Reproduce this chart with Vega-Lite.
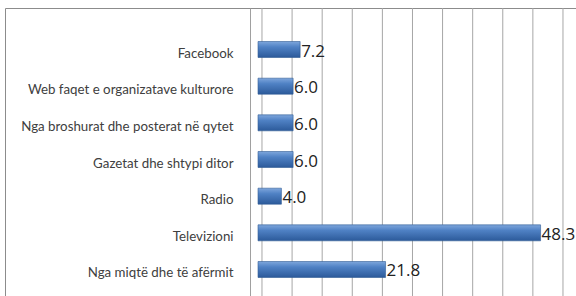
{
  "$schema": "https://vega.github.io/schema/vega-lite/v6.json",
  "width": 585,
  "height": 303,
  "autosize": {"type": "none"},
  "padding": {"left": 5, "top": 8, "right": 0, "bottom": 0},
  "background": "white",
  "config": {
    "view": {"stroke": "#8c8c8c", "strokeWidth": 1},
    "font": "Lato"
  },
  "datasets": {
    "vals": [
      {"burimi": "Facebook", "vlera": 7.2},
      {"burimi": "Web faqet e organizatave kulturore", "vlera": 6.0},
      {"burimi": "Nga broshurat dhe posterat në qytet", "vlera": 6.0},
      {"burimi": "Gazetat dhe shtypi ditor", "vlera": 6.0},
      {"burimi": "Radio", "vlera": 4.0},
      {"burimi": "Televizioni", "vlera": 48.3},
      {"burimi": "Nga miqtë dhe të afërmit", "vlera": 21.8}
    ],
    "grid": [
      {"g": 0}, {"g": 5}, {"g": 10}, {"g": 15}, {"g": 20}, {"g": 25},
      {"g": 30}, {"g": 35}, {"g": 40}, {"g": 45}, {"g": 50}
    ]
  },
  "layer": [
    {
      "data": {"name": "grid"},
      "mark": {"type": "rule", "color": "#a6a6a6", "strokeWidth": 1},
      "encoding": {
        "x": {
          "field": "g",
          "type": "quantitative",
          "scale": {"domain": [-42.69, 54.49], "nice": false, "zero": false},
          "axis": null
        }
      }
    },
    {
      "data": {"name": "vals"},
      "encoding": {
        "y": {
          "field": "burimi",
          "type": "nominal",
          "sort": null,
          "scale": {"paddingInner": 0.564, "paddingOuter": 0.914},
          "axis": {
            "title": null,
            "offset": -245,
            "ticks": false,
            "domainColor": "#a0a0a0",
            "labelFont": "Lato",
            "labelFontSize": 13.3,
            "labelColor": "#404040",
            "labelPadding": 17,
            "labelOffset": 4,
            "labelLimit": 300
          }
        },
        "x": {
          "field": "vlera",
          "type": "quantitative",
          "scale": {"domain": [-43.25, 56.75], "nice": false, "zero": false},
          "axis": null
        }
      },
      "layer": [
        {
          "mark": {
            "type": "bar",
            "stroke": "#2f5a94",
            "strokeWidth": 0.6,
            "color": {
              "gradient": "linear",
              "x1": 0, "y1": 0, "x2": 0, "y2": 1,
              "stops": [
                {"offset": 0, "color": "#7ea6dc"},
                {"offset": 0.35, "color": "#4f81c4"},
                {"offset": 1, "color": "#2c5a9a"}
              ]
            }
          },
          "encoding": {"x2": {"datum": 0}}
        },
        {
          "mark": {
            "type": "text",
            "align": "left",
            "baseline": "middle",
            "dx": 1,
            "dy": 2,
            "fontSize": 17,
            "font": "Open Sans",
            "color": "#222222"
          },
          "encoding": {
            "text": {"field": "vlera", "type": "quantitative", "format": ".1f"}
          }
        }
      ]
    }
  ],
  "resolve": {"scale": {"x": "independent"}}
}
